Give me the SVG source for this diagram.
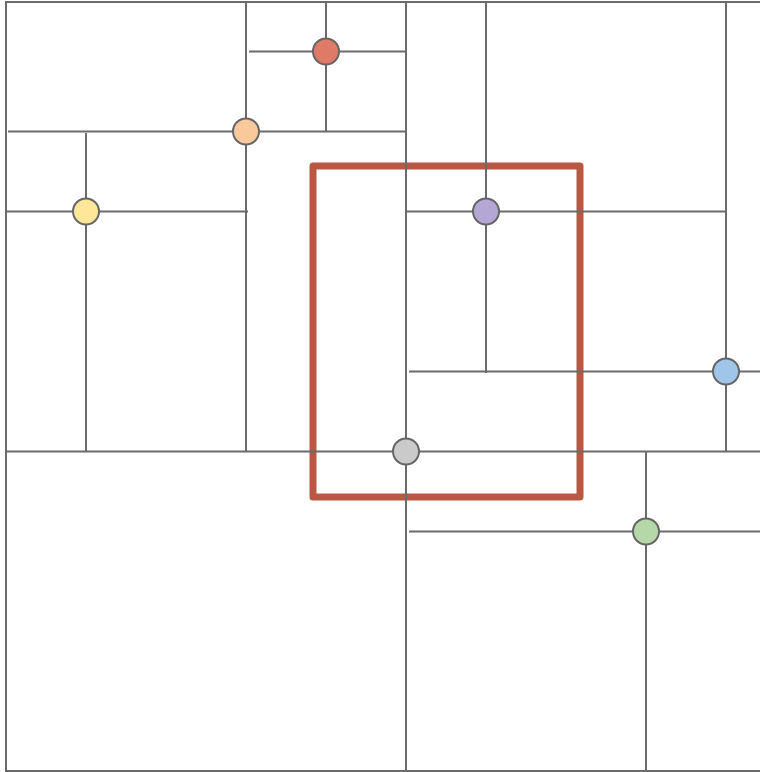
<svg xmlns="http://www.w3.org/2000/svg" width="760" height="772" viewBox="0 0 760 772">
<style>
.l{stroke:#6b6b6b;stroke-width:2;fill:none}
.n{stroke:#666;stroke-width:2}
.q{stroke:#b85742;stroke-width:7;fill:none;stroke-linejoin:round}
</style>
<rect width="760" height="772" fill="#fff"/>
<rect class="q" x="313" y="166" width="267" height="331"/>
<g id="connectors">
<rect class="l" x="6" y="2" width="800" height="769" stroke="#777"/>
<line class="l" x1="406" y1="2" x2="406" y2="771"/>
<line class="l" x1="6" y1="451.5" x2="760" y2="451.5"/>
<line class="l" x1="246" y1="2" x2="246" y2="451.5"/>
<line class="l" x1="8" y1="131.5" x2="406" y2="131.5"/>
<line class="l" x1="249" y1="51.5" x2="406" y2="51.5"/>
<line class="l" x1="326" y1="2" x2="326" y2="131.5"/>
<line class="l" x1="86" y1="133" x2="86" y2="451.5"/>
<line class="l" x1="6" y1="211.5" x2="248" y2="211.5"/>
<line class="l" x1="726" y1="2" x2="726" y2="451.5"/>
<line class="l" x1="409" y1="371.5" x2="760" y2="371.5"/>
<line class="l" x1="486" y1="2" x2="486" y2="373"/>
<line class="l" x1="406" y1="211.5" x2="725" y2="211.5"/>
<line class="l" x1="646" y1="451.5" x2="646" y2="771"/>
<line class="l" x1="409" y1="531.5" x2="760" y2="531.5"/>
</g>
<g id="node-gray"><circle class="n" cx="406" cy="451.5" r="13" fill="#cacaca"/></g>
<g id="node-orange"><circle class="n" cx="246" cy="131.5" r="13" fill="#f9c99b"/></g>
<g id="node-red"><circle class="n" cx="326" cy="51.5" r="13" fill="#df7a66"/></g>
<g id="node-yellow"><circle class="n" cx="86" cy="211.5" r="13" fill="#ffe699"/></g>
<g id="node-purple"><circle class="n" cx="486" cy="211.5" r="13" fill="#b4a7d6"/></g>
<g id="node-blue"><circle class="n" cx="726" cy="371.5" r="13" fill="#9fc5e8"/></g>
<g id="node-green"><circle class="n" cx="646" cy="531.5" r="13" fill="#b6d7a8"/></g>
</svg>
